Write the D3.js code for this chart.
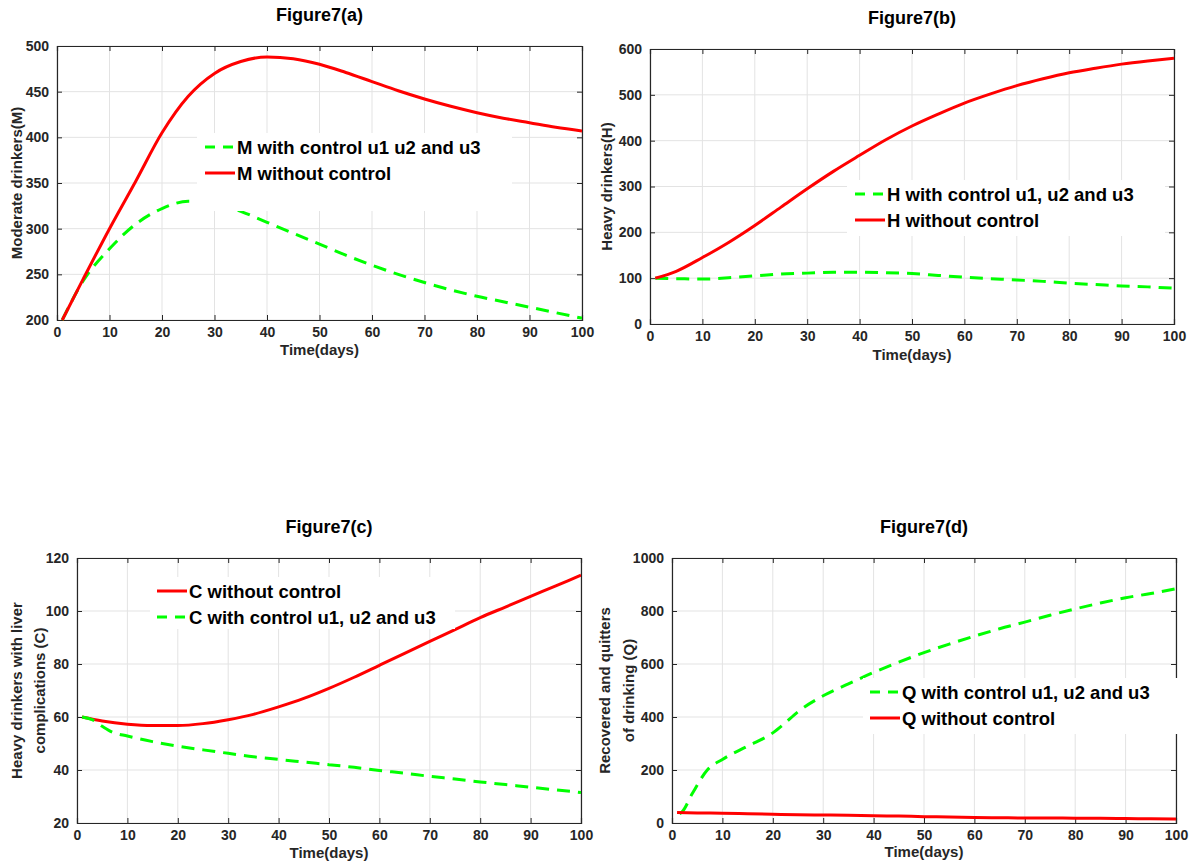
<!DOCTYPE html>
<html>
<head>
<meta charset="utf-8">
<script src="https://cdn.jsdelivr.net/npm/d3@7"></script>
<style>
  html, body { margin: 0; padding: 0; background: #fff; }
  svg { display: block; font-family: "Liberation Sans", Arial, sans-serif; }
</style>
</head>
<body>
<svg id="chart" width="1192" height="863"></svg>
<script>
// ---------- DATA ----------
const xTicks = [0, 10, 20, 30, 40, 50, 60, 70, 80, 90, 100];

const days = [1, 5, 10, 15, 20, 25, 30, 35, 40, 45, 50, 55, 60, 65, 70, 75, 80, 85, 90, 95, 100];

// Figure 7(a) Moderate drinkers
const mTicks = [200, 250, 300, 350, 400, 450, 500];
const mWithout = [200, 245, 300, 352, 405, 445, 470, 483, 488, 486, 480, 471, 461, 451, 442, 434, 427, 421, 416, 411, 407];
const mWith = [200, 243, 278, 305, 322, 330, 329, 319, 307, 295, 283, 271, 260, 250, 241, 233, 226, 220, 214, 208, 202];

// Figure 7(b) Heavy drinkers
const hTicks = [0, 100, 200, 300, 400, 500, 600];
const hWithout = [100, 115, 145, 178, 215, 255, 295, 333, 368, 402, 432, 458, 482, 502, 520, 535, 548, 558, 567, 574, 580];
const hWith = [100, 99, 98, 101, 105, 109, 111, 113, 113, 112, 110, 106, 102, 99, 96, 93, 89, 86, 83, 81, 78];

// Figure 7(c) Heavy drinkers with liver complications
const cTicks = [20, 40, 60, 80, 100, 120];
const cWithout = [60, 58.5, 57.3, 56.8, 56.8, 57.5, 59, 61, 63.8, 67, 70.8, 75, 79.5, 84, 88.5, 93, 97.5, 101.5, 105.5, 109.5, 113.5];
const cWithDays = [1, 3, 5, 7, 10, 15, 20, 25, 30, 35, 40, 45, 50, 55, 60, 65, 70, 75, 80, 85, 90, 95, 100];
const cWith = [60, 59, 56.5, 54.3, 52.8, 50.7, 49, 47.6, 46.3, 45, 44, 43, 42, 41, 39.8, 38.8, 37.6, 36.6, 35.5, 34.5, 33.5, 32.5, 31.5];

// Figure 7(d) Recovered and quitters
const qTicks = [0, 200, 400, 600, 800, 1000];
const qWithDays = [1.5, 2, 4, 7, 10, 15, 20, 22, 25, 30, 35, 40, 45, 50, 55, 60, 65, 70, 75, 80, 85, 90, 95, 100];
const qWith = [35, 42, 110, 200, 240, 290, 340, 370, 420, 480, 525, 568, 607, 643, 675, 705, 733, 758, 784, 808, 830, 850, 866, 884];
const qWithout = [40, 38, 37, 35, 33, 31, 30, 29, 27, 26, 24, 23, 21, 20, 19, 19, 18, 18, 17, 16, 15];

// ---------- LAYOUT / STYLE ----------
const RED = "#ff0000", GREEN = "#00ff00";
const panels = [
  { title: "Figure7(a)", L: 57, R: 582, T: 46, B: 320, ticks: mTicks, ylab: ["Moderate drinkers(M)"], ylabX: [17],
    series: [
      { name: "M with control u1 u2 and u3", x: days, y: mWith, color: GREEN, dash: true },
      { name: "M without control", x: days, y: mWithout, color: RED, dash: false }
    ],
    legend: { x: 197, y: 133, w: 315, h: 78, sx: 205, row0: 147 }, xlabY: 350 },
  { title: "Figure7(b)", L: 650, R: 1174, T: 49, B: 324, ticks: hTicks, ylab: ["Heavy drinkers(H)"], ylabX: [607],
    series: [
      { name: "H with control u1, u2 and u3", x: days, y: hWith, color: GREEN, dash: true },
      { name: "H without control", x: days, y: hWithout, color: RED, dash: false }
    ],
    legend: { x: 847, y: 180, w: 318, h: 56, sx: 855, row0: 194 }, xlabY: 355 },
  { title: "Figure7(c)", L: 77, R: 581, T: 558, B: 823, ticks: cTicks, ylab: ["Heavy drinkers with liver", "complications (C)"], ylabX: [17, 40],
    series: [
      { name: "C without control", x: days, y: cWithout, color: RED, dash: false },
      { name: "C with control u1, u2 and u3", x: cWithDays, y: cWith, color: GREEN, dash: true }
    ],
    legend: { x: 150, y: 577, w: 305, h: 52, sx: 157, row0: 591 }, xlabY: 853 },
  { title: "Figure7(d)", L: 672, R: 1176, T: 558, B: 823, ticks: qTicks, ylab: ["Recovered and quitters", "of drinking (Q)"], ylabX: [605, 629],
    series: [
      { name: "Q with control u1, u2 and u3", x: qWithDays, y: qWith, color: GREEN, dash: true },
      { name: "Q without control", x: days, y: qWithout, color: RED, dash: false }
    ],
    legend: { x: 863, y: 678, w: 315, h: 56, sx: 870, row0: 692 }, xlabY: 852 }
];

const svg = d3.select("#chart");
const AX = "#262626";
const fmt = d3.format("d");

panels.forEach(p => {
  const x = d3.scaleLinear().domain([0, 100]).range([p.L, p.R]);
  const y = d3.scaleLinear().domain(d3.extent(p.ticks)).range([p.B, p.T]);
  const g = svg.append("g");

  // grid
  g.append("g").selectAll("line").data(xTicks).join("line")
    .attr("x1", d => x(d)).attr("x2", d => x(d)).attr("y1", p.T).attr("y2", p.B)
    .attr("stroke", "#e3e3e3").attr("stroke-width", 1);
  g.append("g").selectAll("line").data(p.ticks).join("line")
    .attr("y1", d => y(d)).attr("y2", d => y(d)).attr("x1", p.L).attr("x2", p.R)
    .attr("stroke", "#e3e3e3").attr("stroke-width", 1);

  // axes (ticks inside)
  const xa = g.append("g").attr("transform", `translate(0,${p.B})`)
    .call(d3.axisBottom(x).tickValues(xTicks).tickSize(-5).tickPadding(7).tickFormat(fmt));
  const xt = g.append("g").attr("transform", `translate(0,${p.T})`)
    .call(d3.axisTop(x).tickValues(xTicks).tickSize(-5).tickFormat(""));
  const ya = g.append("g").attr("transform", `translate(${p.L},0)`)
    .call(d3.axisLeft(y).tickValues(p.ticks).tickSize(-5).tickPadding(8).tickFormat(fmt));
  const yr = g.append("g").attr("transform", `translate(${p.R},0)`)
    .call(d3.axisRight(y).tickValues(p.ticks).tickSize(-5).tickFormat(""));
  [xa, xt, ya, yr].forEach(a => {
    a.select(".domain").attr("stroke", AX).attr("stroke-width", 1.2);
    a.selectAll(".tick line").attr("stroke", AX);
    a.selectAll("text").attr("fill", AX).attr("font-size", 14).attr("font-weight", "bold")
      .attr("font-family", "Liberation Sans, Arial, sans-serif");
  });

  // lines
  const line = d3.line().x(d => x(d[0])).y(d => y(d[1])).curve(d3.curveMonotoneX);
  const clipId = "clip" + p.title.replace(/\W/g, "");
  svg.append("clipPath").attr("id", clipId).append("rect")
    .attr("x", p.L).attr("y", p.T - 2).attr("width", p.R - p.L).attr("height", p.B - p.T + 4);
  p.series.forEach(s => {
    g.append("path").datum(s.x.map((t, i) => [t, s.y[i]]))
      .attr("clip-path", `url(#${clipId})`)
      .attr("d", line).attr("fill", "none").attr("stroke", s.color)
      .attr("stroke-width", 3)
      .attr("stroke-dasharray", s.dash ? "13,8" : null);
  });

  // legend
  const lg = g.append("g");
  lg.append("rect").attr("x", p.legend.x).attr("y", p.legend.y).attr("width", p.legend.w).attr("height", p.legend.h)
    .attr("fill", "#fff");
  p.series.forEach((s, i) => {
    const yy = p.legend.row0 + i * 26;
    lg.append("line").attr("x1", p.legend.sx).attr("x2", p.legend.sx + 30).attr("y1", yy).attr("y2", yy)
      .attr("stroke", s.color).attr("stroke-width", 3).attr("stroke-dasharray", s.dash ? "10,8" : null);
    lg.append("text").attr("x", p.legend.sx + 32).attr("y", yy).attr("dy", "0.36em")
      .attr("font-size", 18.5).attr("font-weight", "bold").attr("fill", "#000").text(s.name);
  });

  // title
  g.append("text").attr("x", (p.L + p.R) / 2).attr("y", p.T - 25).attr("text-anchor", "middle")
    .attr("font-size", 18).attr("font-weight", "bold").attr("fill", "#000").text(p.title);

  // x label
  g.append("text").attr("x", (p.L + p.R) / 2).attr("y", p.xlabY).attr("dy", "0.36em").attr("text-anchor", "middle")
    .attr("font-size", 15).attr("font-weight", "bold").attr("fill", AX).text("Time(days)");

  // y label
  p.ylab.forEach((t, i) => {
    g.append("text").attr("transform", `translate(${p.ylabX[i]},${(p.T + p.B) / 2}) rotate(-90)`)
      .attr("text-anchor", "middle").attr("dy", "0.36em")
      .attr("font-size", 15).attr("font-weight", "bold").attr("fill", AX).text(t);
  });
});
</script>
</body>
</html>
